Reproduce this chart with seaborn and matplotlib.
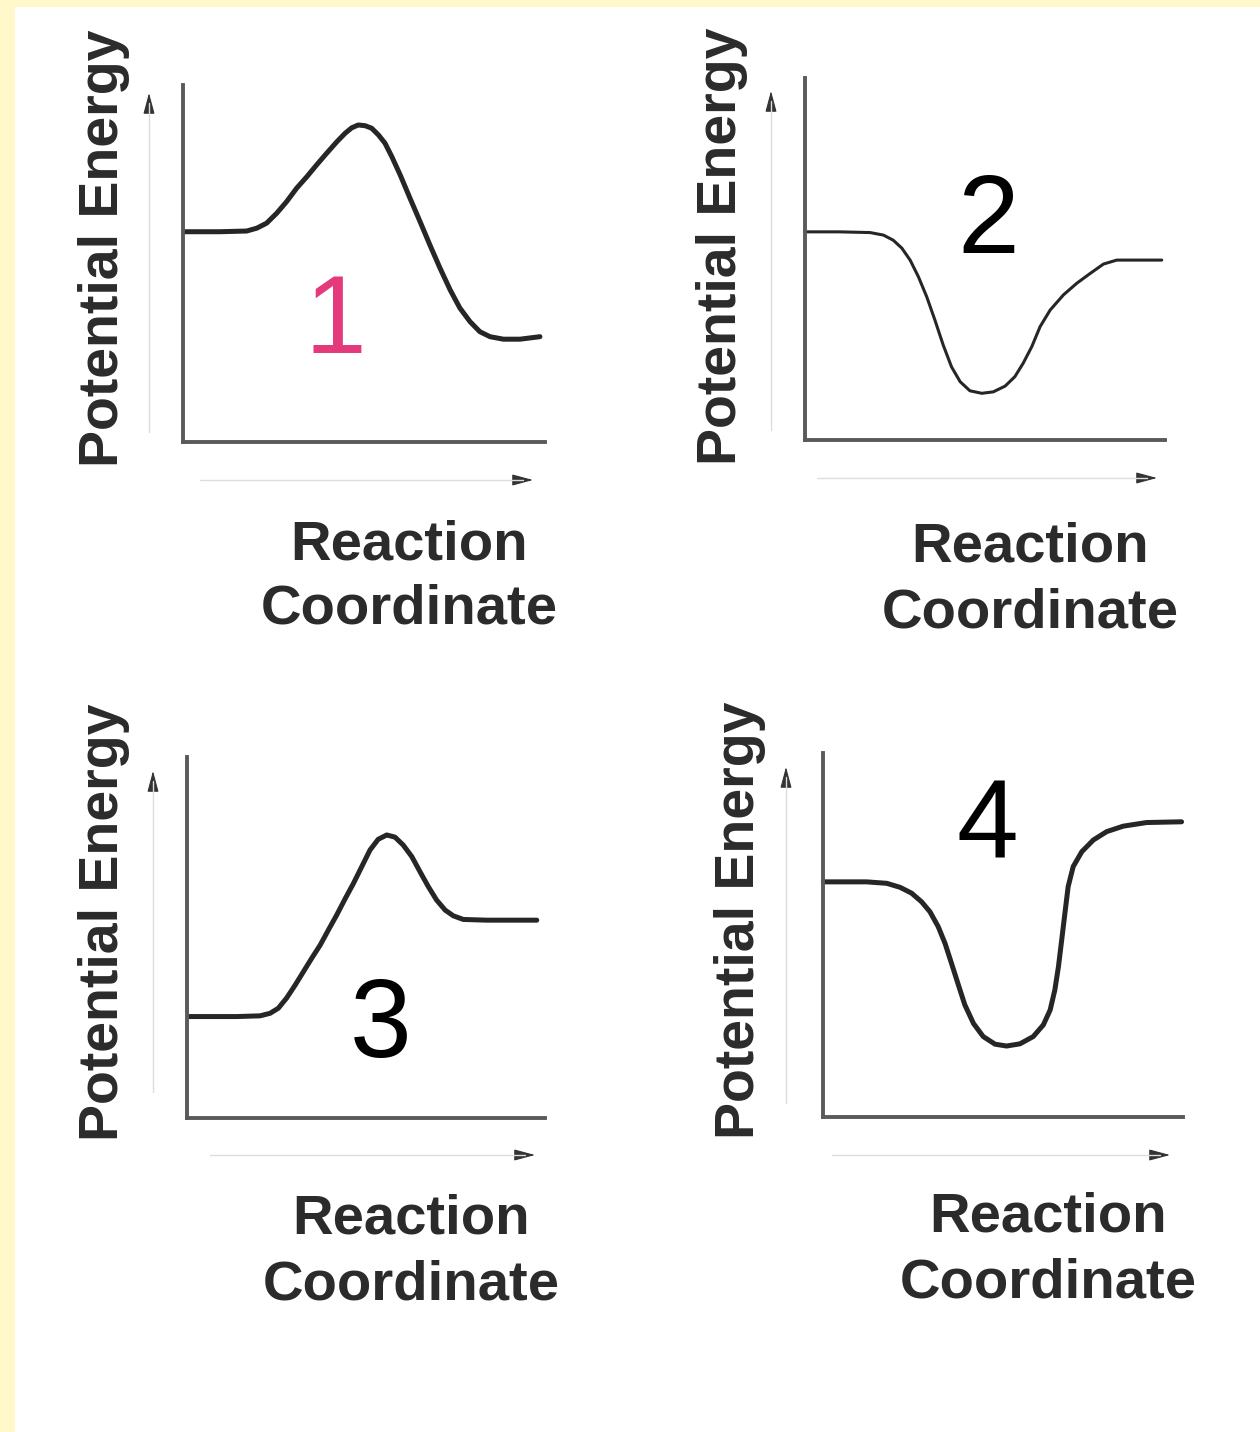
import matplotlib
matplotlib.use("Agg")
import matplotlib.pyplot as plt
from matplotlib.patches import Rectangle, FancyArrowPatch
import pandas as pd
import seaborn as sns

# ---- energy profiles (reaction coordinate 0-10, potential energy 0-10) ----
coord_1 = [0.06, 1.02, 1.76, 2.04, 2.31, 2.59, 2.86, 3.14, 3.42, 3.69, 3.97,
           4.25, 4.48, 4.66, 4.84, 5.03, 5.21, 5.40, 5.58, 5.77, 6.00, 6.27,
           6.55, 6.82, 7.10, 7.38, 7.65, 7.93, 8.20, 8.48, 8.85, 9.31, 9.86]
energy_1 = [5.89, 5.89, 5.91, 5.99, 6.13, 6.41, 6.73, 7.11, 7.43, 7.76, 8.09,
            8.41, 8.65, 8.80, 8.88, 8.86, 8.79, 8.60, 8.37, 7.99, 7.48, 6.83,
            6.17, 5.52, 4.87, 4.26, 3.75, 3.37, 3.09, 2.95, 2.88, 2.88, 2.95]

coord_2 = [0.00, 0.97, 1.81, 2.18, 2.45, 2.69, 2.92, 3.15, 3.38, 3.61, 3.84,
           4.07, 4.31, 4.58, 4.91, 5.23, 5.56, 5.83, 6.06, 6.30, 6.53, 6.81,
           7.18, 7.55, 7.92, 8.29, 8.66, 9.21, 9.91]
energy_2 = [5.75, 5.75, 5.73, 5.66, 5.52, 5.30, 4.97, 4.51, 3.96, 3.31, 2.62,
            2.02, 1.61, 1.36, 1.29, 1.33, 1.49, 1.75, 2.12, 2.58, 3.13, 3.59,
            4.01, 4.33, 4.60, 4.86, 4.97, 4.97, 4.97]

coord_3 = [0.04, 1.39, 2.04, 2.32, 2.55, 2.78, 3.02, 3.25, 3.48, 3.72, 3.95,
           4.18, 4.41, 4.65, 4.88, 5.11, 5.34, 5.58, 5.81, 6.04, 6.28, 6.51,
           6.74, 6.97, 7.21, 7.44, 7.72, 8.37, 9.77]
energy_3 = [2.81, 2.81, 2.83, 2.90, 3.04, 3.32, 3.68, 4.05, 4.42, 4.79, 5.21,
            5.62, 6.06, 6.50, 6.96, 7.42, 7.72, 7.84, 7.78, 7.56, 7.24, 6.82,
            6.41, 6.04, 5.76, 5.60, 5.50, 5.48, 5.48]

coord_4 = [0.01, 1.21, 1.77, 2.14, 2.46, 2.74, 2.97, 3.20, 3.39, 3.57, 3.76,
           3.94, 4.18, 4.45, 4.78, 5.10, 5.47, 5.84, 6.12, 6.31, 6.44, 6.54,
           6.63, 6.72, 6.81, 6.95, 7.19, 7.51, 7.88, 8.34, 8.99, 9.96]
energy_4 = [6.46, 6.46, 6.42, 6.31, 6.15, 5.91, 5.64, 5.23, 4.77, 4.22, 3.63,
            3.08, 2.57, 2.21, 2.00, 1.95, 2.01, 2.21, 2.53, 2.94, 3.49, 4.13,
            4.86, 5.60, 6.33, 6.88, 7.29, 7.61, 7.84, 7.99, 8.09, 8.11]

panel_numbers = ["1", "2", "3", "4"]
number_colors = ["#E43A7B", "black", "black", "black"]
x_label = "Reaction\nCoordinate"
y_label = "Potential Energy"

coords = [coord_1, coord_2, coord_3, coord_4]
energies = [energy_1, energy_2, energy_3, energy_4]

# ---- page layout in pixels (top-left origin) ----
W, H = 1260, 1432
sns.set_theme(style="white")
plt.rcParams["font.family"] = ["Liberation Sans", "DejaVu Sans"]

fig = plt.figure(figsize=(W / 100, H / 100), dpi=100)
fig.patch.set_facecolor("#FEF8CB")
fig.add_artist(Rectangle((15 / W, 0), (W - 15) / W, (H - 7) / H,
                         transform=fig.transFigure, facecolor="white",
                         edgecolor="none", zorder=0))

# axis frame boxes: left, top, right, bottom
frames = [(183, 85, 545, 442), (805, 78, 1165, 440),
          (187, 757, 545, 1118), (823, 753, 1183, 1117)]
curve_widths = [3.6, 2.2, 3.6, 3.6]
# faint guide arrows: vertical (x, y_bottom, y_tip), horizontal (y, x_start, x_tip)
v_arrows = [(149, 432, 93), (771, 430, 91), (153, 1092, 771), (786, 1103, 767)]
h_arrows = [(480, 200, 533), (478, 817, 1157), (1155, 210, 535), (1155, 832, 1170)]
# label anchors
ylab_pos = [(104, 248), (722, 246), (104, 922), (740, 920)]
xlab_pos = [(409, 559), (1030, 562), (411, 1234), (1048, 1232)]
num_pos = [(335, 353), (988, 253), (381, 1057), (987, 858)]


def fx(x):
    return x / W


def fy(y):
    return 1 - y / H


text_color = "#2b2b2b"
head = "-|>,head_length=1.3,head_width=0.35"

for i in range(4):
    l, t, r, b = frames[i]
    ax = fig.add_axes([fx(l), fy(b), (r - l) / W, (b - t) / H])
    ax.set_facecolor("none")
    df = pd.DataFrame({"coord": coords[i], "energy": energies[i]})
    sns.lineplot(data=df, x="coord", y="energy", ax=ax, color="#262626",
                 linewidth=curve_widths[i], estimator=None, sort=False)
    for line in ax.lines:
        line.set_clip_on(False)
        line.set_solid_capstyle("round")
        line.set_solid_joinstyle("round")
    ax.set_xlim(0, 10)
    ax.set_ylim(0, 10)
    ax.set_xticks([])
    ax.set_yticks([])
    ax.set_xlabel("")
    ax.set_ylabel("")
    for side in ("top", "right"):
        ax.spines[side].set_visible(False)
    for side in ("left", "bottom"):
        ax.spines[side].set_color("#5a5a5a")
        ax.spines[side].set_linewidth(2.8)

    # faint guide arrows
    vx, vb, vt = v_arrows[i]
    fig.add_artist(plt.Line2D([fx(vx), fx(vx)], [fy(vb), fy(vt + 10)],
                              transform=fig.transFigure, color="#dcdcdc", lw=1.0))
    fig.add_artist(FancyArrowPatch(
        (fx(vx), fy(vt + 20)), (fx(vx), fy(vt)), transform=fig.transFigure,
        arrowstyle=head, mutation_scale=10,
        color="#333333", lw=0.8, shrinkA=0, shrinkB=0))
    hy, hs, ht = h_arrows[i]
    fig.add_artist(plt.Line2D([fx(hs), fx(ht - 10)], [fy(hy), fy(hy)],
                              transform=fig.transFigure, color="#dcdcdc", lw=1.0))
    fig.add_artist(FancyArrowPatch(
        (fx(ht - 20), fy(hy)), (fx(ht), fy(hy)), transform=fig.transFigure,
        arrowstyle=head, mutation_scale=10,
        color="#333333", lw=0.8, shrinkA=0, shrinkB=0))

    # axis titles
    yx, yy = ylab_pos[i]
    fig.text(fx(yx), fy(yy), y_label, rotation=90, ha="center", va="center",
             fontsize=40, fontweight="bold", color=text_color)
    xx, xy = xlab_pos[i]
    lines = x_label.split("\n")
    fig.text(fx(xx), fy(xy), lines[0], ha="center", va="baseline",
             fontsize=40.5, fontweight="bold", color=text_color)
    fig.text(fx(xx), fy(xy + 65), lines[1], ha="center", va="baseline",
             fontsize=40.5, fontweight="bold", color=text_color)

    # panel number
    nx, ny = num_pos[i]
    fig.text(fx(nx), fy(ny), panel_numbers[i], ha="center", va="baseline",
             fontsize=80, color=number_colors[i])

fig.savefig("out.png", dpi=100, facecolor=fig.get_facecolor())
